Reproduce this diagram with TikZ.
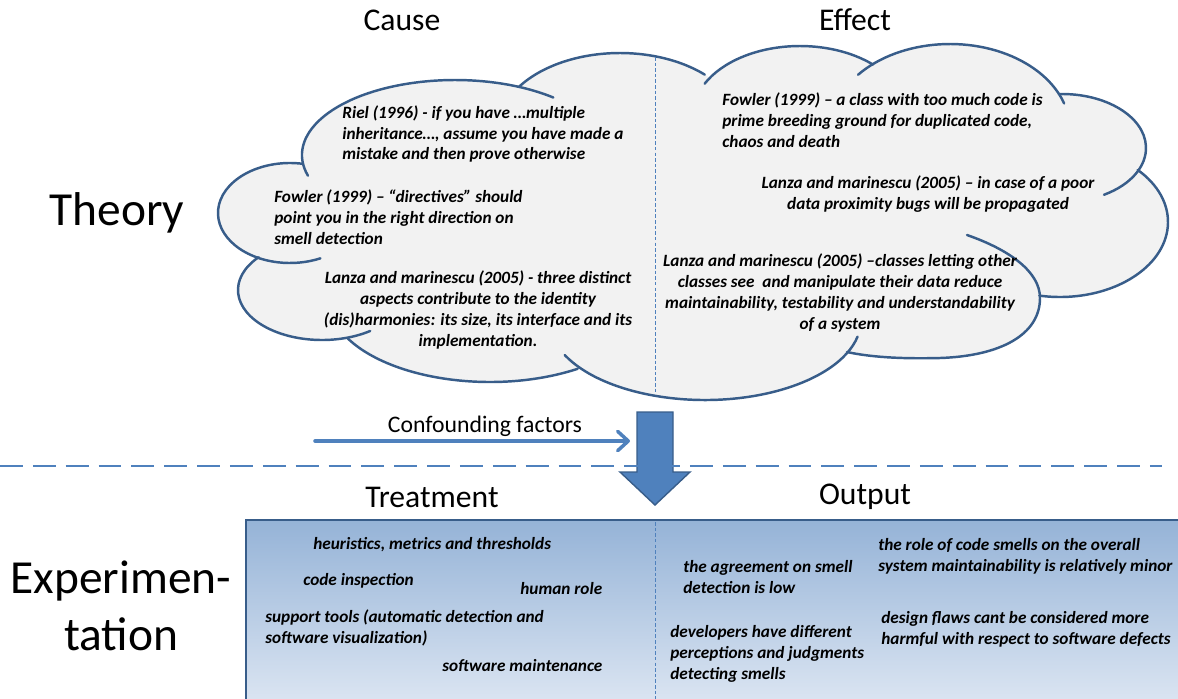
\documentclass[tikz,border=0pt]{standalone}
\usepackage{fontspec}
\setmainfont{Carlito}
\usetikzlibrary{arrows.meta}

\definecolor{cloudline}{RGB}{56,93,138}
\definecolor{cloudfill}{RGB}{242,242,242}
\definecolor{accent}{RGB}{79,129,189}
\definecolor{boxtop}{RGB}{149,179,215}
\definecolor{boxbottom}{RGB}{222,231,243}

\newcommand\notefont{\bfseries\itshape\fontsize{9.8}{11.9}\selectfont}
% one lobe of the cloud: centre x, centre y, x radius, y radius, from angle, to angle
\newcommand\cloudlobe[6]{%
  \draw[lobe] (#1,#2) ++(#5:#3 and #4)
    arc[start angle=#5, end angle=#6, x radius=#3, y radius=#4];}
\newcommand\lobefill[4]{%
  \fill[cloudfill] (#1,#2) ellipse[x radius=#3, y radius=#4];}

\begin{document}
\begin{tikzpicture}[x=0.02cm, y=-0.02cm,
  lobe/.style={draw=cloudline, line width=1.4pt, line cap=round},
  note/.style={font=\notefont, inner sep=0pt, align=left, text=black},
  cnote/.style={note, align=center},
  heading/.style={font=\fontsize{18}{22}\selectfont, inner sep=0pt},
  side/.style={font=\fontsize{27}{32.3}\selectfont, inner sep=0pt, align=center},
  midline/.style={draw=accent, line width=0.5pt, dash pattern=on 2pt off 1.2pt},
  separator/.style={draw=accent, line width=1.2pt, dash pattern=on 13pt off 5.7pt},
  flow/.style={draw=accent, line width=2pt, line cap=round,
    -{Straight Barb[length=6pt,width=11pt,round]}},
  bigarrow/.style={fill=accent, draw=cloudline, line width=0.8pt, line join=miter}
]
\useasboundingbox (0,0) rectangle (1178,698);

% ---------- cloud body ----------
\fill[cloudfill] (305,170) -- (525,90) -- (706,80) -- (865,70) -- (1060,98)
  -- (1136,173) -- (1040,298) .. controls (1040,335) and (1000,356) .. (940,358)
  .. controls (900,359) and (870,357) .. (847,352) -- (578,368) -- (348,337)
  -- (262,257) -- cycle;
\lobefill{290}{213}{72}{50}
\lobefill{455}{155}{153}{75}
\lobefill{620}{130}{122}{77}
\lobefill{800}{115}{107}{69}
\lobefill{950}{130}{120}{86}
\lobefill{1062}{148}{84}{54}
\lobefill{1060}{222}{108}{75}
\lobefill{705}{320}{156}{80}
\lobefill{490}{300}{161}{82}
\lobefill{322}{290}{84}{50}

% ---------- cloud outline ----------
\cloudlobe{290}{213}{72}{50}{280}{65}
\cloudlobe{455}{155}{153}{75}{164}{310}
\cloudlobe{620}{130}{122}{77}{214}{314}
\cloudlobe{800}{115}{107}{69}{207}{313}
\cloudlobe{950}{130}{120}{86}{220}{342}
\cloudlobe{1062}{148}{84}{54}{268}{420}
\cloudlobe{1060}{222}{108}{75}{-44}{101}
\draw[lobe] (967,235) .. controls (1010,250) and (1040,272) .. (1040,298)
  .. controls (1040,335) and (1000,356) .. (940,358)
  .. controls (900,359) and (870,357) .. (847,352);
\cloudlobe{705}{320}{156}{80}{154}{12}
\cloudlobe{490}{300}{161}{82}{152}{57}
\cloudlobe{322}{290}{84}{50}{221}{55}

% cause / effect divider
\draw[midline] (655,57) -- (655,394);

% ---------- headings ----------
\node[heading] (cause) at (402,20) {Cause};
\node[heading] (effect) at (855,20) {Effect};
\node[heading] (treatment) at (432,497) {Treatment};
\node[heading] (output) at (865,497) {Output};
\node[side] (theory) at (117,213) {Theory};
\node[side] (experimentation) at (121,606) {Experimen-\\tation};

% ---------- theory: causes ----------
\node[note, anchor=west] (riel) at (342,134)
  {Riel (1996) - if you have …multiple\\inheritance…, assume you have made a\\mistake and then prove otherwise};
\node[note, anchor=west] (fowlerdir) at (274,217)
  {Fowler (1999) – “directives” should\\point you in the right direction on\\smell detection};
\node[cnote] (lanzasize) at (478,310)
  {Lanza and marinescu (2005) - three distinct\\aspects contribute to the identity\\(dis)harmonies: its size, its interface and its\\implementation.};

% ---------- theory: effects ----------
\node[note, anchor=west] (fowlercode) at (722,120)
  {Fowler (1999) – a class with too much code is\\prime breeding ground for duplicated code,\\chaos and death};
\node[cnote] (lanzaprox) at (928,194)
  {Lanza and marinescu (2005) – in case of a poor\\data proximity bugs will be propagated};
\node[cnote] (lanzadata) at (840,293)
  {Lanza and marinescu (2005) –classes letting other\\classes see\ \ and manipulate their data reduce\\maintainability, testability and understandability\\of a system};

% ---------- confounding factors and transition arrow ----------
\node[font=\fontsize{13.5}{16}\selectfont, inner sep=0pt] (confound) at (485,426) {Confounding factors};
\coordinate (cf-from) at (315,441);
\coordinate (cf-to) at (630,441);
\draw[flow] (cf-from) -- (cf-to);
\filldraw[bigarrow] (637,412) -- (673,412) -- (673,472) -- (690,472) -- (655,505)
  -- (620,472) -- (637,472) -- cycle;
\draw[separator] (0,466) -- (1162,466);

% ---------- experimentation panel ----------
\shade[top color=boxtop, bottom color=boxbottom] (246,520) rectangle (1190,710);
\draw[cloudline, line width=1.5pt] (246,710) -- (246,520) -- (1190,520);
\draw[midline] (655,522) -- (655,700);

\node[note, anchor=west] (heur) at (313,545) {heuristics, metrics and thresholds};
\node[note, anchor=west] (insp) at (303,581) {code inspection};
\node[note, anchor=west] (human) at (520,589) {human role};
\node[note, anchor=west] (tools) at (265,628) {support tools (automatic detection and\\software visualization)};
\node[note, anchor=west] (maint) at (442,666) {software maintenance};
\node[note, anchor=west] (agree) at (683,577) {the agreement on smell\\detection is low};
\node[note, anchor=west] (devs) at (670,654) {developers have different\\perceptions and judgments\\detecting smells};
\node[note, anchor=west] (role) at (878,556) {the role of code smells on the overall\\system maintainability is relatively minor};
\node[note, anchor=west] (flaws) at (881,629) {design flaws cant be considered more\\harmful with respect to software defects};
\end{tikzpicture}
\end{document}
